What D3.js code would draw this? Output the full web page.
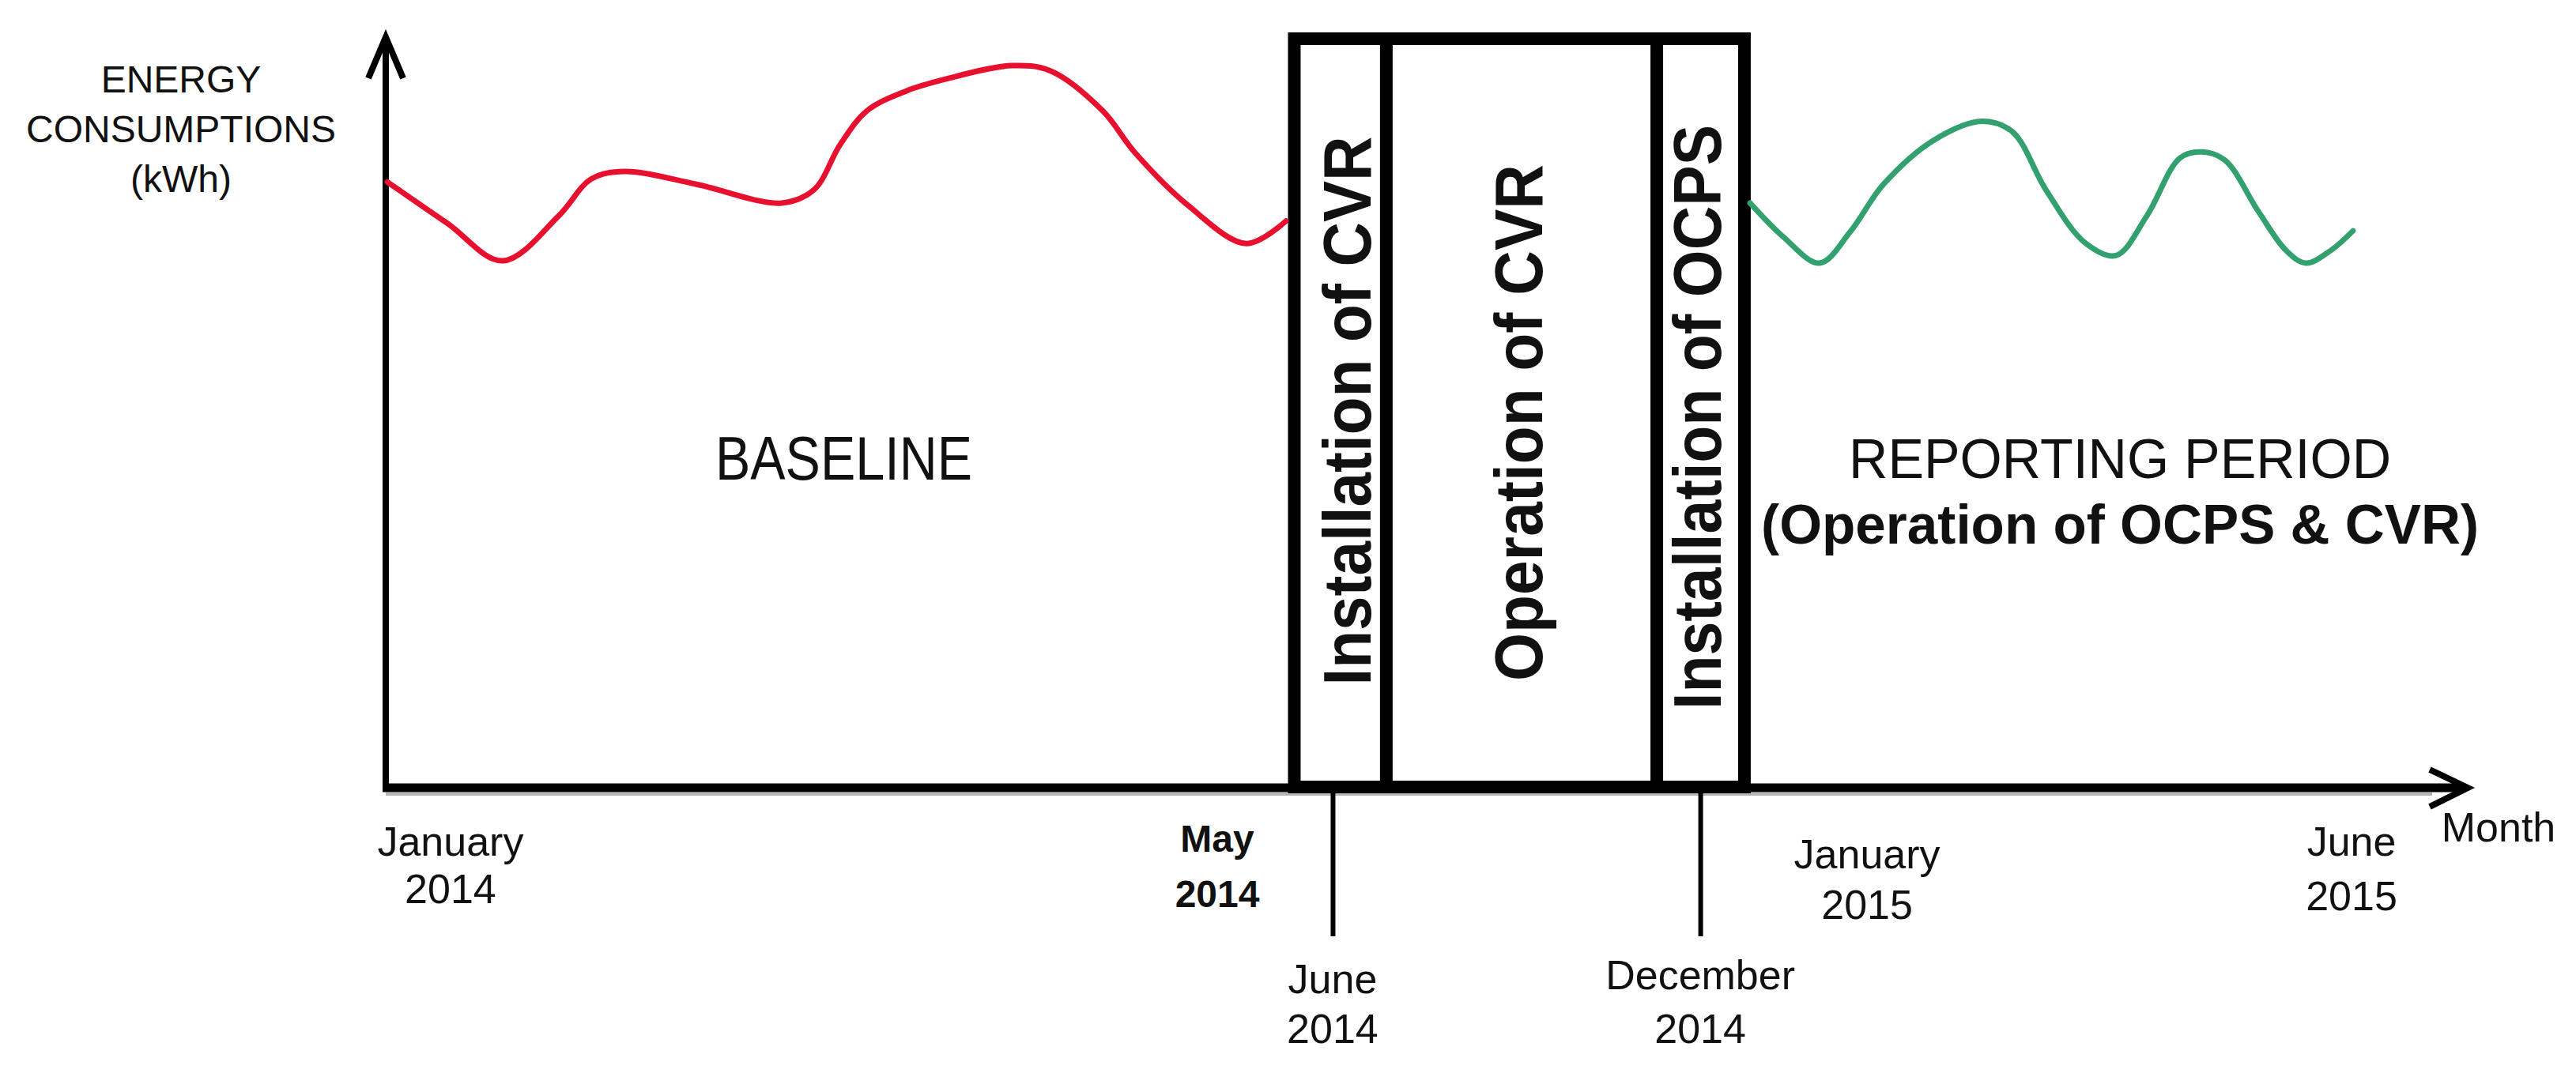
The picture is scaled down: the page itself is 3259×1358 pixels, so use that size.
<!DOCTYPE html>
<html>
<head>
<meta charset="utf-8">
<script src="https://cdn.jsdelivr.net/npm/d3@7"></script>
<style>
  html, body { margin: 0; padding: 0; background: #ffffff; }
  svg { display: block; }
  text { font-family: "Liberation Sans", Arial, sans-serif; fill: #111; }
</style>
</head>
<body>
<script>
// ---------------- DATA ----------------
// abstract time-progress units along the Month axis (0..100) and energy units (0..100)
const xDomain = [0, 100];
const yDomain = [0, 100];

const baselineT = [0.08, 2.96, 5.62, 8.31, 9.87, 11.47, 14.92, 19.02, 20.58, 21.83, 23.12, 24.98, 26.88, 30.03, 31.93, 34.43, 35.99, 38.53, 41.34, 43.24];
const baselineV = [80.7, 75.2, 70.2, 76.2, 81.1, 82.1, 80.4, 77.9, 79.7, 85.7, 90.2, 92.8, 94.4, 96.2, 95.5, 90.2, 84.6, 77.6, 72.5, 75.5];

const reportingT = [65.53, 67.12, 68.87, 70.35, 71.94, 74.37, 76.65, 78.13, 79.73, 81.62, 83.10, 84.59, 86.18, 87.24, 88.34, 89.94, 91.27, 92.22, 93.43, 94.49];
const reportingV = [77.9, 73.4, 69.9, 74.1, 80.4, 86.3, 88.8, 87.4, 79.7, 72.6, 70.9, 76.2, 83.9, 84.7, 83.6, 76.8, 71.6, 69.9, 71.6, 74.2];

const phaseNames = ["Installation of CVR", "Operation of CVR", "Installation of OCPS"];
const phaseBounds = [43.64, 48.06, 61.05, 65.26];

const periodNames = ["BASELINE", "REPORTING PERIOD", "(Operation of OCPS & CVR)"];
const periodAt = [22.0, 83.3, 83.3];

const monthLabels = [["January", "2014"], ["May", "2014"], ["June", "2014"], ["December", "2014"], ["January", "2015"], ["June", "2015"]];
const monthAt = [3.11, 39.94, 45.48, 63.14, 71.15, 94.42];
const tickAt = [45.48, 63.14];

const yTitle = ["ENERGY", "CONSUMPTIONS", "(kWh)"];
const xTitle = "Month";

// ---------------- LAYOUT ----------------
const W = 3259, H = 1358;
const svg = d3.select("body").append("svg").attr("width", W).attr("height", H)
  .style("background", "#fff");

const x = d3.scaleLinear().domain(xDomain).range([488, 3122]);
const y = d3.scaleLinear().domain(yDomain).range([997, 47]);
const x0 = x(xDomain[0]), x1 = x(xDomain[1]);
const y0 = y(yDomain[0]), y1 = y(yDomain[1]);

// grey shadow under x axis
svg.append("line").attr("x1", x0).attr("x2", x1 - 45).attr("y1", y0 + 8).attr("y2", y0 + 8)
  .attr("stroke", "#b5b5b5").attr("stroke-width", 4);

// vertical tick lines (June 2014, December 2014) via d3 axis
const tickAxis = d3.axisBottom(x).tickValues(tickAt).tickSize(188).tickFormat("");
const tg = svg.append("g").attr("transform", `translate(0,${y0})`).call(tickAxis);
tg.select(".domain").remove();
tg.selectAll(".tick line").attr("stroke", "#000").attr("stroke-width", 6);

// x axis line + arrow
svg.append("line").attr("x1", x0 - 4).attr("x2", x1 - 4).attr("y1", y0).attr("y2", y0)
  .attr("stroke", "#000").attr("stroke-width", 11);
svg.append("path").attr("d", `M${x1 - 48},${y0 - 23} L${x1},${y0} L${x1 - 48},${y0 + 24}`)
  .attr("fill", "none").attr("stroke", "#000").attr("stroke-width", 8).attr("stroke-linejoin", "miter");

// y axis line + arrow
svg.append("line").attr("x1", x0).attr("x2", x0).attr("y1", y0).attr("y2", y1 + 6)
  .attr("stroke", "#000").attr("stroke-width", 8);
svg.append("path").attr("d", `M${x0 - 22},${y1 + 52} L${x0},${y1} L${x0 + 22},${y1 + 52}`)
  .attr("fill", "none").attr("stroke", "#000").attr("stroke-width", 8).attr("stroke-linejoin", "miter");

// phase boxes
const boxTop = 49, boxBot = 996, wall = 16;
svg.append("rect")
  .attr("x", x(phaseBounds[0])).attr("y", boxTop)
  .attr("width", x(phaseBounds[3]) - x(phaseBounds[0])).attr("height", boxBot - boxTop)
  .attr("fill", "none").attr("stroke", "#000").attr("stroke-width", wall);
svg.selectAll("line.divider").data(phaseBounds.slice(1, 3)).join("line")
  .attr("class", "divider")
  .attr("x1", d => x(d)).attr("x2", d => x(d))
  .attr("y1", boxTop).attr("y2", boxBot)
  .attr("stroke", "#000").attr("stroke-width", wall);

// vertical phase labels
const phaseCy = [520, 535, 528];
const phaseLen = [695, 654, 740];
const phaseDx = [8, -5, -5];
phaseNames.forEach((name, i) => {
  const cx = (x(phaseBounds[i]) + x(phaseBounds[i + 1])) / 2 + phaseDx[i];
  svg.append("text")
    .attr("transform", `translate(${cx},${phaseCy[i]}) rotate(-90)`)
    .attr("text-anchor", "middle")
    .attr("dy", "0.36em")
    .attr("font-size", 85).attr("font-weight", "bold")
    .attr("textLength", phaseLen[i]).attr("lengthAdjust", "spacingAndGlyphs")
    .text(name);
});

// curves
const line = d3.line().x(d => x(d[0])).y(d => y(d[1])).curve(d3.curveCatmullRom.alpha(0.5));
svg.append("path").datum(d3.zip(baselineT, baselineV))
  .attr("d", line).attr("fill", "none").attr("stroke", "#e8102f").attr("stroke-width", 7)
  .attr("stroke-linecap", "round").attr("stroke-linejoin", "round");
svg.append("path").datum(d3.zip(reportingT, reportingV))
  .attr("d", line).attr("fill", "none").attr("stroke", "#33a070").attr("stroke-width", 7)
  .attr("stroke-linecap", "round").attr("stroke-linejoin", "round");

// period labels
svg.append("text").attr("x", x(periodAt[0])).attr("y", 607).attr("text-anchor", "middle")
  .attr("font-size", 78).attr("textLength", 325).attr("lengthAdjust", "spacingAndGlyphs")
  .text(periodNames[0]);
svg.append("text").attr("x", x(periodAt[1])).attr("y", 605).attr("text-anchor", "middle")
  .attr("font-size", 70).attr("textLength", 686).attr("lengthAdjust", "spacingAndGlyphs")
  .text(periodNames[1]);
svg.append("text").attr("x", x(periodAt[2])).attr("y", 688).attr("text-anchor", "middle")
  .attr("font-size", 71).attr("font-weight", "bold").attr("textLength", 908).attr("lengthAdjust", "spacingAndGlyphs")
  .text(periodNames[2]);

// y title
const yTitleBase = [117, 180, 243];
yTitle.forEach((t, i) => {
  svg.append("text").attr("x", 229).attr("y", yTitleBase[i]).attr("text-anchor", "middle")
    .attr("font-size", 48).text(t);
});

// x title
svg.append("text").attr("x", x1 + 39).attr("y", 1065).attr("text-anchor", "middle")
  .attr("font-size", 52).text(xTitle);

// month labels
const monthBase = [[1083, 1143], [1078, 1148], [1257, 1320], [1252, 1320], [1099, 1163], [1083, 1152]];
const monthBold = [false, true, false, false, false, false];
monthLabels.forEach((lines, i) => {
  lines.forEach((t, j) => {
    svg.append("text").attr("x", x(monthAt[i])).attr("y", monthBase[i][j])
      .attr("text-anchor", "middle")
      .attr("font-size", monthBold[i] ? 48 : 52)
      .attr("font-weight", monthBold[i] ? "bold" : "normal")
      .text(t);
  });
});
</script>
</body>
</html>
